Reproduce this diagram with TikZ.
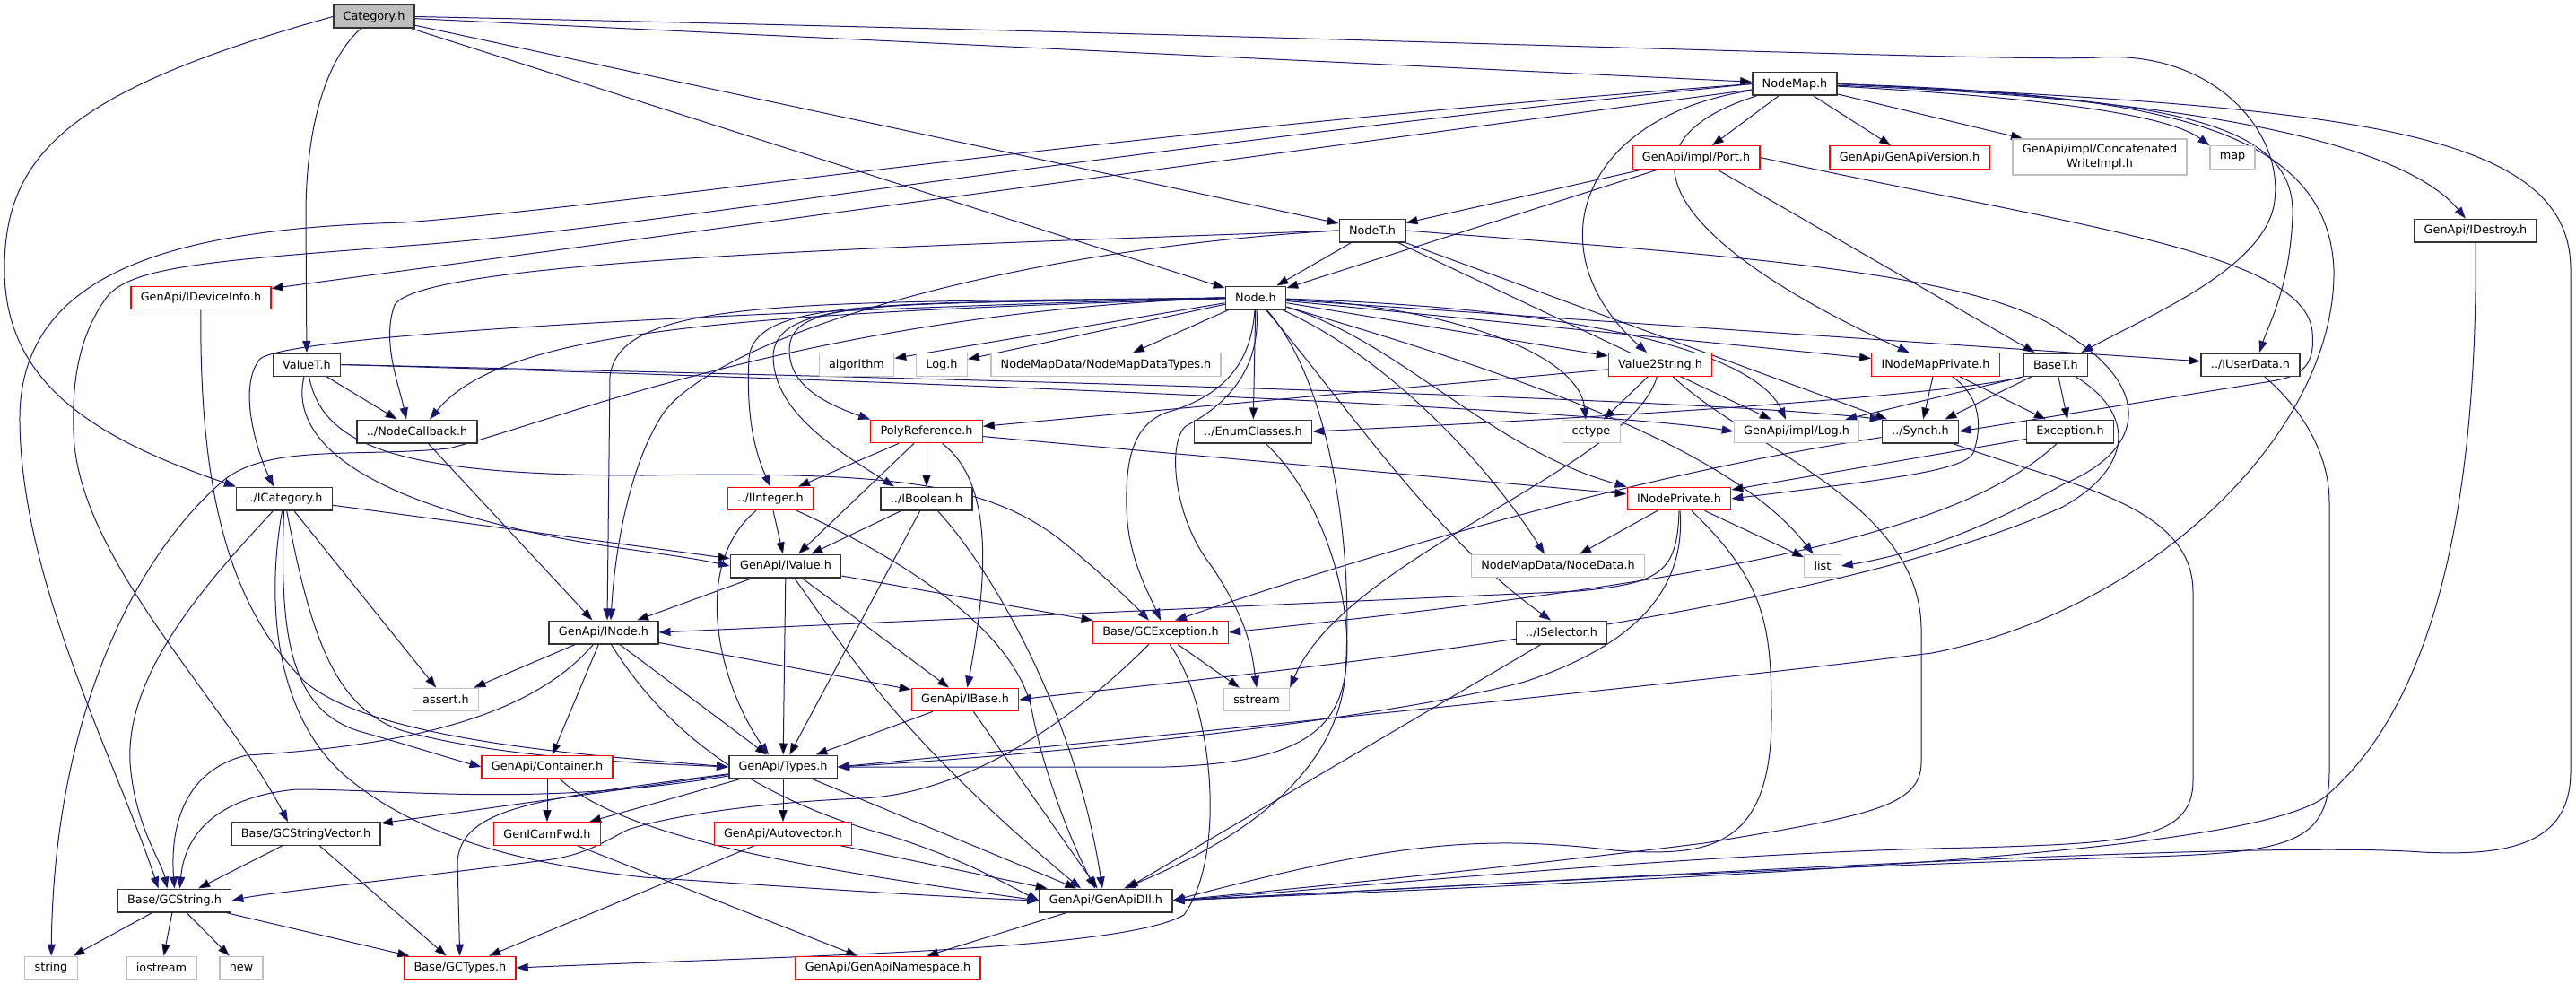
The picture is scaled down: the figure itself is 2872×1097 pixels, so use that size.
\documentclass[tikz,border=0pt]{standalone}
\usepackage{fontspec}
\setmainfont{DejaVu Sans}
\usetikzlibrary{arrows.meta}
\definecolor{edgeblue}{HTML}{191970}
\definecolor{grey75}{HTML}{BFBFBF}
\pgfdeclarelayer{bg}
\pgfsetlayers{bg,main}

\begin{document}
\begin{tikzpicture}[x=0.5pt,y=-0.5pt,
    docfile/.style={draw=black!80,line width=0.75pt,fill=white,inner xsep=5.4pt,inner ysep=0pt,
      minimum height=12.75pt,font=\fontsize{6.4pt}{7.8pt}\selectfont},
    rootfile/.style={docfile,fill=grey75},
    redfile/.style={docfile,draw=red,line width=0.6pt},
    sysfile/.style={docfile,draw=grey75,line width=0.6pt},
    incl/.style={draw=edgeblue,line width=0.5pt,-{Triangle[length=6.5pt,width=4.6pt]}}]

\useasboundingbox (0,0) rectangle (2872,1097);

% files, top to bottom
\node[rootfile] (cat) at (417,18.5) {Category.h};
\node[docfile] (nmap) at (2001,93.5) {NodeMap.h};
\node[redfile] (port) at (1891,175.5) {GenApi/impl/Port.h};
\node[redfile] (ver) at (2129,175.5) {GenApi/GenApiVersion.h};
\node[sysfile,align=center,minimum height=20pt] (cwi) at (2341,175) {GenApi/impl/Concatenated\\WriteImpl.h};
\node[sysfile] (map) at (2489,175.5) {map};
\node[docfile] (nodet) at (1530,257) {NodeT.h};
\node[docfile] (idestroy) at (2760,257) {GenApi/IDestroy.h};
\node[redfile] (idevinfo) at (224,332) {GenApi/IDeviceInfo.h};
\node[docfile] (node) at (1400,332) {Node.h};
\node[docfile] (valuet) at (342,406.5) {ValueT.h};
\node[sysfile] (algorithm) at (955,406.5) {algorithm};
\node[sysfile] (logh) at (1050,406.5) {Log.h};
\node[sysfile] (nmdtypes) at (1233,406.5) {NodeMapData/NodeMapDataTypes.h};
\node[redfile] (v2s) at (1851,406.5) {Value2String.h};
\node[redfile] (inmpriv) at (2158,406.5) {INodeMapPrivate.h};
\node[docfile] (baset) at (2292,406.5) {BaseT.h};
\node[docfile] (iuserdata) at (2509,406.5) {../IUserData.h};
\node[docfile] (nodecb) at (465,481) {../NodeCallback.h};
\node[redfile] (polyref) at (1033,481) {PolyReference.h};
\node[docfile] (enumcls) at (1397,481) {../EnumClasses.h};
\node[sysfile] (cctype) at (1774,481) {cctype};
\node[sysfile] (implog) at (2003,481) {GenApi/impl/Log.h};
\node[docfile] (synch) at (2141,481) {../Synch.h};
\node[docfile] (exception) at (2308,481) {Exception.h};
\node[docfile] (icat) at (317,556) {../ICategory.h};
\node[redfile] (iint) at (859,556) {../IInteger.h};
\node[docfile] (ibool) at (1033,556) {../IBoolean.h};
\node[redfile] (inpriv) at (1872,556) {INodePrivate.h};
\node[docfile] (ivalue) at (876,631) {GenApi/IValue.h};
\node[sysfile] (nodedata) at (1737,631) {NodeMapData/NodeData.h};
\node[sysfile] (list) at (2032,631) {list};
\node[docfile] (inode) at (673,705) {GenApi/INode.h};
\node[redfile] (gcexc) at (1294,705) {Base/GCException.h};
\node[docfile] (iselector) at (1741,705) {../ISelector.h};
\node[sysfile] (assert) at (497,780) {assert.h};
\node[redfile] (ibase) at (1076,780) {GenApi/IBase.h};
\node[sysfile] (sstream) at (1401,780) {sstream};
\node[redfile] (container) at (610,855) {GenApi/Container.h};
\node[docfile] (types) at (873,855) {GenApi/Types.h};
\node[docfile] (gcsv) at (341,929.5) {Base/GCStringVector.h};
\node[redfile] (genicamfwd) at (610,929.5) {GenICamFwd.h};
\node[redfile] (autovec) at (873,929.5) {GenApi/Autovector.h};
\node[docfile] (gcstring) at (194.5,1004) {Base/GCString.h};
\node[docfile] (dll) at (1233,1004) {GenApi/GenApiDll.h};
\node[sysfile] (string) at (57,1079) {string};
\node[sysfile] (iostream) at (180,1079) {iostream};
\node[sysfile] (new) at (269,1079) {new};
\node[redfile] (gctypes) at (513,1079) {Base/GCTypes.h};
\node[redfile] (ns) at (990,1079) {GenApi/GenApiNamespace.h};

\begin{pgfonlayer}{bg}
% Category.h
\path[incl] (cat) edge (nmap) (cat) edge (node) (cat) edge (nodet);
\draw[incl] (cat) .. controls (360,70) and (341,150) .. (341,240) -- (valuet);
\draw[incl] (cat.west) .. controls (80,100) and (5,170) .. (5,300) .. controls (5,430) and (110,490) .. (icat.north west);
\draw[incl] (cat.east) .. controls (1500,40) and (2250,70) .. (2340,64) .. controls (2470,56) and (2550,150) .. (2535,230) .. controls (2520,300) and (2400,350) .. ([xshift=-4pt]baset.north east);

% NodeMap.h
\path[incl] (nmap) edge (port) (nmap) edge (ver) (nmap) edge (cwi) (nmap) edge (idevinfo);
\draw[incl] (nmap) .. controls (2300,110) and (2420,130) .. (map.north west);
\draw[incl] (nmap) .. controls (2450,110) and (2680,160) .. (idestroy);
\draw[incl] (nmap.east) .. controls (2400,110) and (2560,130) .. (2556,240) .. controls (2553,320) and (2530,360) .. ([xshift=5pt]iuserdata.north);
\draw[incl] (nmap) .. controls (1760,130) and (1710,280) .. (v2s);
\draw[incl] (nmap) .. controls (1790,160) and (1860,270) .. (inmpriv);
\draw[incl] (nmap.west) .. controls (1200,150) and (700,230) .. (450,248) .. controls (200,255) and (20,300) .. (22,470) .. controls (24,650) and (130,850) .. ([xshift=-9pt]gcstring.north);
\draw[incl] (nmap.west) .. controls (1200,170) and (750,250) .. (480,272) .. controls (250,290) and (150,295) .. (120,330) .. controls (90,370) and (80,420) .. (82,480) .. controls (84,620) and (250,780) .. ([xshift=-10pt]gcsv.north);
\draw[incl] (nmap.east) .. controls (2600,120) and (2866,140) .. (2866,300) -- (2866,860) .. controls (2866,940) and (2800,955) .. (2700,950) .. controls (2500,935) and (1700,985) .. (dll.east);
\draw[incl] (nmap.east) .. controls (2400,105) and (2595,140) .. (2602,300) .. controls (2605,480) and (2400,680) .. (2154,728) .. controls (1900,760) and (1300,820) .. (types.east);

% Port.h
\path[incl] (port) edge (nodet) (port) edge (node) (port) edge (baset);
\draw[incl] (port.east) .. controls (2300,250) and (2570,280) .. (2578,370) .. controls (2582,415) and (2560,421) .. (2520,427) -- (synch.east);

% NodeT.h
\path[incl] (nodet) edge (node) (nodet) edge (synch) (nodet) edge (implog);
\draw[incl] (nodet.west) .. controls (1000,275) and (470,290) .. (440,340) .. controls (425,380) and (445,430) .. ([xshift=-6pt]nodecb.north);
\draw[incl] (nodet.west) .. controls (1100,280) and (800,380) .. (740,460) .. controls (700,520) and (685,620) .. ([xshift=4pt]inode.north);
\draw[incl] (nodet.east) .. controls (1900,283) and (2200,300) .. (2300,370) .. controls (2400,430) and (2395,500) .. (2300,540) .. controls (2230,580) and (2150,615) .. (list.east);

% Node.h
\path[incl] (node) edge (algorithm) (node) edge (logh) (node) edge (nmdtypes)
  (node) edge (enumcls) (node) edge (v2s) (node) edge (inmpriv) (node) edge (iuserdata);
\draw[incl] (node.west) .. controls (900,345) and (330,370) .. (290,400) .. controls (265,430) and (285,500) .. ([xshift=-6pt]icat.north);
\draw[incl] (node) .. controls (800,350) and (560,370) .. ([xshift=7pt]nodecb.north);
\draw[incl] (node.west) .. controls (900,350) and (620,470) .. (500,500) .. controls (400,510) and (300,495) .. (250,535) .. controls (150,620) and (60,800) .. (string);
\draw[incl] (node.west) .. controls (900,338) and (690,330) .. (680,420) -- ([xshift=2pt]inode.north);
\draw[incl] (node.west) .. controls (1000,340) and (840,330) .. (835,400) .. controls (832,460) and (840,500) .. (iint.north);
\draw[incl] (node.west) .. controls (1000,340) and (880,330) .. (880,390) .. controls (880,430) and (920,450) .. (polyref.north west);
\draw[incl] (node.west) .. controls (1000,340) and (860,330) .. (862,400) .. controls (865,460) and (930,500) .. ([xshift=-18pt]ibool.north);
\draw[incl] (node) .. controls (1600,340) and (1760,390) .. ([xshift=-3pt]cctype.north);
\draw[incl] (node) .. controls (1800,345) and (1960,400) .. ([xshift=-6pt]implog.north);
\draw[incl] (node) .. controls (1560,380) and (1660,500) .. (inpriv.north west);
\draw[incl] (node) .. controls (1550,400) and (1660,520) .. ([xshift=-7.5pt]nodedata.north);
\draw[incl] (node) .. controls (1700,420) and (1930,500) .. (list);
\draw[incl] (node) .. controls (1500,450) and (1600,600) .. ([xshift=-6pt]iselector.north);
\draw[incl] (node) .. controls (1405,400) and (1380,445) .. (1322,475) .. controls (1300,495) and (1310,580) .. (1350,630) .. controls (1390,690) and (1395,720) .. (sstream.north);
\draw[incl] (node) .. controls (1395,400) and (1370,440) .. (1300,460) .. controls (1260,475) and (1255,520) .. (1256,566) .. controls (1257,620) and (1280,660) .. (gcexc.north);
\draw[incl] (node) .. controls (1480,420) and (1510,600) .. (1500,750) .. controls (1490,880) and (1350,950) .. ([xshift=10pt]dll.north);

% ValueT.h
\path[incl] (valuet) edge (nodecb);
\draw[incl] (valuet.east) .. controls (1200,425) and (1900,445) .. (synch.north west);
\draw[incl] (valuet.east) .. controls (1200,430) and (1800,460) .. (implog.west);
\draw[incl] (valuet) .. controls (325,480) and (380,540) .. (550,583) .. controls (650,610) and (740,615) .. (ivalue.west);
\draw[incl] (valuet) .. controls (360,500) and (450,530) .. (718,530) .. controls (1000,525) and (1100,540) .. (1180,600) .. controls (1230,640) and (1270,680) .. ([xshift=-6.5pt]gcexc.north);

% Value2String.h
\path[incl] (v2s) edge (polyref) (v2s) edge (cctype);
\draw[incl] (v2s) .. controls (1820,520) and (1500,620) .. (sstream.north east);
\draw[incl] (v2s) .. controls (1950,500) and (2140,560) .. (2142,700) -- (2142,850) .. controls (2142,900) and (2080,910) .. (1900,940) .. controls (1700,965) and (1500,985) .. (dll.east);

% INodeMapPrivate.h, BaseT.h, Exception.h
\path[incl] (inmpriv) edge (synch) (inmpriv) edge (exception);
\draw[incl] (inmpriv) .. controls (2205,440) and (2212,470) .. (2200,505) .. controls (2190,525) and (2100,535) .. (inpriv.east);
\path[incl] (baset) edge (synch) (baset) edge (exception);
\draw[incl] (baset.south west) -- ([xshift=-8pt]implog.north east);
\draw[incl] (baset.south west) .. controls (2150,445) and (1700,470) .. (enumcls.east);
\draw[incl] (baset) .. controls (2380,460) and (2380,520) .. (2300,565) .. controls (2000,700) and (1300,760) .. (ibase.east);
\path[incl] (exception) edge (inpriv);
\draw[incl] (exception) .. controls (2200,580) and (2000,640) .. (gcexc.east);

% PolyReference.h, EnumClasses.h
\path[incl] (polyref) edge (iint) (polyref) edge (ibool) (polyref) edge (ivalue) (polyref) edge (inpriv);
\draw[incl] (polyref) .. controls (1110,540) and (1100,650) .. (ibase);
\draw[incl] (enumcls) .. controls (1480,560) and (1510,680) .. (1500,750) .. controls (1490,820) and (1440,850) .. (1300,855) -- (types.east);

% ../ICategory.h
\path[incl] (icat) edge (ivalue) (icat) edge (assert);
\draw[incl] (icat) .. controls (230,650) and (140,750) .. (145,850) .. controls (150,920) and (180,960) .. ([xshift=-4pt]gcstring.north);
\draw[incl] (icat) .. controls (345,700) and (370,790) .. (450,815) .. controls (560,845) and (700,850) .. (types.west);
\draw[incl] (icat) .. controls (295,680) and (310,800) .. (385,865) .. controls (450,920) and (550,960) .. (718,978) .. controls (900,990) and (1050,1000) .. (dll.west);
\draw[incl] (icat) .. controls (312,700) and (320,790) .. (400,815) .. controls (460,832) and (500,845) .. (container.west);

% GenApi/IDeviceInfo.h, ../NodeCallback.h
\draw[incl] (idevinfo) .. controls (222,560) and (260,680) .. (340,760) .. controls (420,830) and (700,845) .. (types.west);
\path[incl] (nodecb) edge (inode);

% ../IInteger.h, ../IBoolean.h
\path[incl] (iint) edge (ivalue);
\draw[incl] (iint) .. controls (770,630) and (800,760) .. ([xshift=-8pt]types.north);
\draw[incl] (iint) .. controls (1000,620) and (1130,700) .. (1150,790) .. controls (1165,870) and (1200,950) .. ([xshift=-6pt]dll.north);
\path[incl] (ibool) edge (ivalue) (ibool) edge (types);
\draw[incl] (ibool) .. controls (1110,640) and (1200,800) .. ([xshift=-2pt]dll.north);

% GenApi/IValue.h, GenApi/INode.h
\path[incl] (ivalue) edge (inode) (ivalue) edge (gcexc) (ivalue) edge (ibase) (ivalue) edge (types);
\draw[incl] (ivalue) .. controls (940,720) and (1000,820) .. ([xshift=-14pt]dll.north);
\path[incl] (inode) edge (assert) (inode) edge (container) (inode) edge (types) (inode) edge (ibase);
\draw[incl] (inode) .. controls (600,790) and (480,830) .. (275,842) .. controls (200,860) and (190,930) .. (gcstring.north);
\draw[incl] (inode) .. controls (720,780) and (800,880) .. (993,932) .. controls (1080,960) and (1120,985) .. (dll.west);

% INodePrivate.h
\path[incl] (inpriv) edge (nodedata) (inpriv) edge (list);
\draw[incl] (inpriv.south) .. controls (1870,640) and (1850,650) .. (1760,659) -- (inode.east);
\draw[incl] (inpriv) .. controls (1880,660) and (1820,720) .. (1700,760) .. controls (1550,800) and (1200,840) .. (types.east);
\draw[incl] (inpriv) .. controls (1970,650) and (1975,700) .. (1975,800) .. controls (1975,950) and (1900,955) .. (1800,948) .. controls (1650,930) and (1550,940) .. (dll.east);

% ../Synch.h, ../IUserData.h, GenApi/IDestroy.h
\draw[incl] (synch) .. controls (1950,510) and (1700,560) .. ([xshift=8pt]gcexc.north);
\draw[incl] (synch) .. controls (2300,540) and (2445,560) .. (2445,660) -- (2445,870) .. controls (2445,935) and (2380,940) .. (2200,945) .. controls (1900,950) and (1500,990) .. (dll.east);
\draw[incl] (iuserdata) .. controls (2560,450) and (2597,500) .. (2597,560) -- (2597,860) .. controls (2597,940) and (2550,950) .. (2400,955) .. controls (1900,970) and (1500,995) .. (dll.east);
\draw[incl] (idestroy) .. controls (2763,600) and (2700,800) .. (2590,890) .. controls (2500,950) and (2000,975) .. (dll.east);

% Base/GCException.h, ../ISelector.h, GenApi/IBase.h
\path[incl] (gcexc) edge (sstream);
\draw[incl] (gcexc) .. controls (1200,800) and (1080,885) .. (960,890) .. controls (880,893) and (760,905) .. (700,925) .. controls (670,940) and (650,955) .. (600,960) .. controls (450,980) and (300,995) .. (gcstring.east);
\draw[incl] (gcexc) .. controls (1350,780) and (1370,950) .. (1320,1020) .. controls (1250,1060) and (900,1065) .. (gctypes.east);
\path[incl] (iselector) edge (dll) (ibase) edge (types) (ibase) edge (dll);

% GenApi/Types.h
\path[incl] (types) edge (gcsv) (types) edge (genicamfwd) (types) edge (autovec) (types) edge (dll);
\draw[incl] (types) .. controls (600,900) and (450,880) .. (330,880) .. controls (230,890) and (205,940) .. ([xshift=3pt]gcstring.north);
\draw[incl] (types) .. controls (600,890) and (515,900) .. (510,960) -- (gctypes);

% bottom rows
\path[incl] (container) edge (genicamfwd) (genicamfwd) edge (ns) (autovec) edge (gctypes) (autovec) edge (dll)
  (gcsv) edge (gcstring) (gcsv) edge (gctypes) (gcstring) edge (string) (gcstring) edge (iostream)
  (gcstring) edge (new) (gcstring) edge (gctypes) (dll) edge (ns);
\draw[incl] (container) .. controls (700,940) and (950,975) .. (dll.west);
\end{pgfonlayer}
\end{tikzpicture}
\end{document}
